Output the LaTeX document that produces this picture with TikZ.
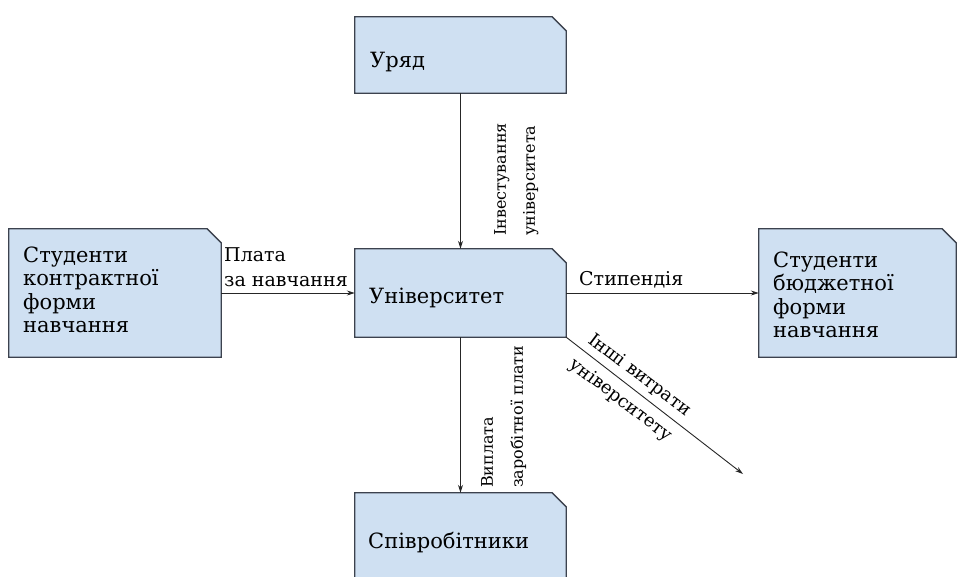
\documentclass[tikz,border=0pt]{standalone}
\usepackage{fontspec}
\setmainfont{DejaVu Serif}
\usetikzlibrary{arrows.meta}
\definecolor{boxblue}{RGB}{207,224,242}
\definecolor{boxline}{RGB}{60,66,78}
\begin{document}
\begin{tikzpicture}[x=1pt,y=-1pt,
  boxshape/.style={rectangle, draw=none, inner sep=0pt},
  boxoutline/.style={fill=boxblue, draw=boxline, line width=1.3pt, line join=miter},
  boxtext/.style={font=\fontsize{21}{23.5}\selectfont, align=left, anchor=west, inner sep=0pt},
  lbl/.style={font=\fontsize{19}{25}\selectfont, align=left, inner sep=0pt},
  rlbl/.style={font=\fontsize{16}{29}\selectfont, align=left, inner sep=0pt, anchor=north west, rotate=90},
  flow/.style={draw=black!85, line width=0.9pt, -{Stealth[length=8pt,width=5pt]}}
]
\useasboundingbox (0,0) rectangle (958,576);

% box shapes
\node[boxshape, minimum width=211pt, minimum height=76pt]  (gov)      at (460.5,55)  {};
\node[boxshape, minimum width=211pt, minimum height=88pt]  (uni)      at (460.5,293) {};
\node[boxshape, minimum width=212pt, minimum height=128pt] (contract) at (115,293)   {};
\node[boxshape, minimum width=197pt, minimum height=128pt] (budget)   at (857.5,293) {};
\node[boxshape, minimum width=211pt, minimum height=90pt]  (staff)    at (460.5,538) {};

\foreach \b in {gov,uni,contract,budget,staff}{
  \draw[boxoutline] (\b.south west) -- (\b.north west) -- ([xshift=-14pt]\b.north east)
    -- ([yshift=-14pt]\b.north east) -- (\b.south east) -- cycle;
}

% box texts
\node[boxtext] (govt)      at (370,62)  {Уряд};
\node[boxtext] (unit)      at (369,298) {Університет};
\node[boxtext] (stafft)    at (368,543) {Співробітники};
\node[boxtext] (contractt) at (23,290)  {Студенти\\контрактної\\форми\\навчання};
\node[boxtext] (budgett)   at (773,295) {Студенти\\бюджетної\\форми\\навчання};

% connectors
\coordinate (otherend) at (743,474);
\draw[flow] (gov.south) -- (uni.north);
\draw[flow] (contract.east) -- (uni.west);
\draw[flow] (uni.east) -- (budget.west);
\draw[flow] (uni.south) -- (staff.north);
\draw[flow] (uni.south east) -- (otherend);

% labels
\node[lbl, anchor=south west] (lfee) at (224,287) {Плата\\за навчання};
\node[lbl, anchor=base west] (lstip) at (579,285) {Стипендія};
\node[rlbl] (linv) at (494,236) {Інвестування\\університета};
\node[rlbl, font=\fontsize{16}{30}\selectfont] (lsal) at (481,488) {Виплата\\заробітної плати};
\node[lbl, align=center, rotate=-37.1, font=\fontsize{18}{31}\selectfont] (loth) at (630,388) {Інші витрати\\університету};
\end{tikzpicture}
\end{document}
